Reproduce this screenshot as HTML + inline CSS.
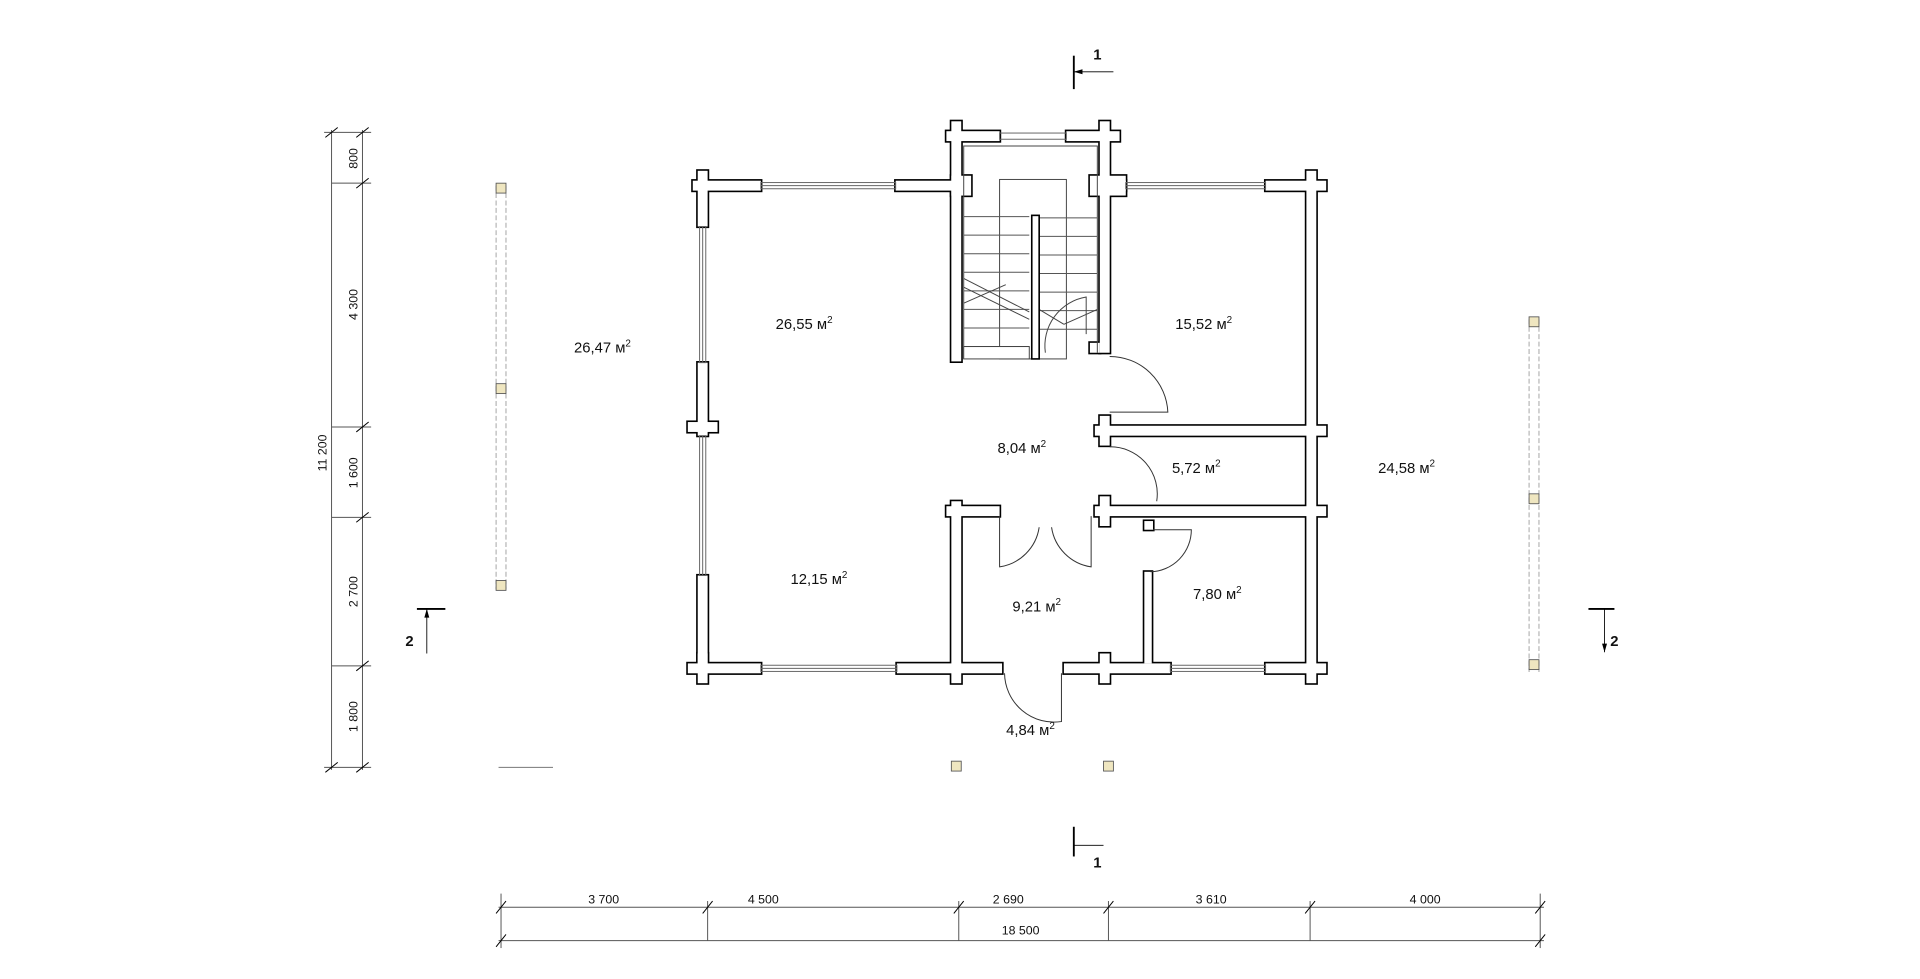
<!DOCTYPE html>
<html><head><meta charset="utf-8"><style>
html,body{margin:0;padding:0;background:#fff;}
svg{display:block;}
text{font-family:"Liberation Sans",sans-serif;fill:#111;}
</style></head><body>
<svg width="1920" height="979" viewBox="0 0 1552 791" preserveAspectRatio="none" xmlns="http://www.w3.org/2000/svg">
<defs>
<g id="walls">
 <!-- left block top wall -->
 <rect x="560" y="146" width="55" height="8"/>
 <rect x="564" y="138" width="8" height="45"/>
 <rect x="724" y="146" width="53" height="8"/>
 <rect x="769" y="142" width="16" height="16"/>
 <!-- left wall -->
 <rect x="564" y="293" width="8" height="59"/>
 <rect x="556" y="341" width="24" height="8"/>
 <rect x="564" y="465" width="8" height="75"/>
 <!-- stair tower -->
 <rect x="769" y="98" width="8" height="194"/>
 <rect x="765" y="106" width="43" height="8"/>
 <rect x="862" y="106" width="43" height="8"/>
 <rect x="889" y="98" width="8" height="187"/>
 <rect x="881" y="142" width="29" height="16"/>
 <rect x="881" y="277" width="8" height="8"/>
 <!-- right block -->
 <rect x="889" y="146" width="21" height="8"/>
 <rect x="1023" y="146" width="49" height="8"/>
 <rect x="1056" y="138" width="8" height="414"/>
 <rect x="885" y="344" width="187" height="8"/>
 <rect x="889" y="336" width="8" height="24"/>
 <rect x="885" y="409" width="187" height="8"/>
 <rect x="889" y="401" width="8" height="24"/>
 <rect x="925" y="462" width="6" height="74"/>
 <rect x="925" y="421" width="7" height="7"/>
 <!-- lower stair wall -->
 <rect x="769" y="405" width="8" height="147"/>
 <rect x="765" y="409" width="43" height="8"/>
 <!-- bottom wall -->
 <rect x="556" y="536" width="59" height="8"/>
 <rect x="564" y="528" width="8" height="24"/>
 <rect x="725" y="536" width="85" height="8"/>
 <rect x="860" y="536" width="86" height="8"/>
 <rect x="889" y="528" width="8" height="24"/>
 <rect x="1023" y="536" width="49" height="8"/>
</g>
</defs>
<g stroke="#000" stroke-width="2.6" fill="#000"><use href="#walls"/></g>
<g fill="#fff" stroke="none"><use href="#walls"/></g>

<!-- windows -->
<g fill="none" stroke="#666" stroke-width="0.8">
 <rect x="615" y="147.5" width="109" height="5"/><line x1="615" y1="150" x2="724" y2="150"/>
 <rect x="808" y="107.5" width="54" height="5"/>
 <rect x="910" y="147.5" width="113" height="5"/><line x1="910" y1="150" x2="1023" y2="150"/>
 <rect x="565.5" y="183" width="5" height="110"/><line x1="568" y1="183" x2="568" y2="293"/>
 <rect x="565.5" y="352" width="5" height="113"/><line x1="568" y1="352" x2="568" y2="465"/>
 <rect x="615" y="537.5" width="110" height="5"/><line x1="615" y1="540" x2="725" y2="540"/>
 <rect x="946" y="537.5" width="77" height="5"/><line x1="946" y1="540" x2="1023" y2="540"/>
</g>

<!-- stairs -->
<g fill="none" stroke="#444" stroke-width="0.8">
 <polyline points="779,290 779,118 887,118 887,285"/>
 <rect x="808" y="145" width="54" height="145"/>
 <g stroke="#555">
  <line x1="779" y1="175" x2="832" y2="175"/><line x1="779" y1="190" x2="832" y2="190"/>
  <line x1="779" y1="205" x2="832" y2="205"/><line x1="779" y1="220" x2="832" y2="220"/>
  <line x1="779" y1="235" x2="832" y2="235"/><line x1="779" y1="250" x2="832" y2="250"/>
  <line x1="779" y1="265" x2="832" y2="265"/><line x1="779" y1="280" x2="832" y2="280"/>
  <line x1="840" y1="176" x2="887" y2="176"/><line x1="840" y1="191" x2="887" y2="191"/>
  <line x1="840" y1="206" x2="887" y2="206"/><line x1="840" y1="221" x2="887" y2="221"/>
  <line x1="840" y1="236" x2="887" y2="236"/><line x1="840" y1="251" x2="887" y2="251"/>
  <line x1="840" y1="266" x2="887" y2="266"/>
 </g>
 <rect x="779" y="280" width="53" height="10" fill="#fff"/>
 <line x1="779" y1="225" x2="832" y2="252"/><line x1="779" y1="232" x2="832" y2="258"/>
 <line x1="779" y1="245" x2="813" y2="230"/>
 <line x1="840" y1="250" x2="860" y2="262"/><line x1="860" y1="262" x2="887" y2="250"/>
 <path d="M845,285 A40,40 0 0 1 878,240 L878,270"/>
</g>
<rect x="834" y="174" width="6" height="116" fill="#fff" stroke="#000" stroke-width="1.3"/>

<!-- doors -->
<g fill="none" stroke="#333" stroke-width="0.8">
 <path d="M897,288 A47,47 0 0 1 944,333 L897,333"/>
 <path d="M897,361 A38,38 0 0 1 935,405"/>
 <path d="M808,417 L808,458 A38,38 0 0 0 840,426"/>
 <path d="M882,417 L882,458 A38,38 0 0 1 850,426"/>
 <path d="M932,428 L963,428 A34,34 0 0 1 930,462"/>
 <path d="M812,544 A40,40 0 0 0 858,583 L858,544"/>
</g>

<!-- room labels -->
<g font-size="12" text-anchor="middle">
 <text x="650" y="266">26,55 м<tspan font-size="8" dy="-5">2</tspan></text>
 <text x="973" y="266">15,52 м<tspan font-size="8" dy="-5">2</tspan></text>
 <text x="826" y="366">8,04 м<tspan font-size="8" dy="-5">2</tspan></text>
 <text x="967" y="382">5,72 м<tspan font-size="8" dy="-5">2</tspan></text>
 <text x="662" y="472">12,15 м<tspan font-size="8" dy="-5">2</tspan></text>
 <text x="838" y="494">9,21 м<tspan font-size="8" dy="-5">2</tspan></text>
 <text x="984" y="484">7,80 м<tspan font-size="8" dy="-5">2</tspan></text>
 <text x="833" y="594">4,84 м<tspan font-size="8" dy="-5">2</tspan></text>
 <text x="487" y="285">26,47 м<tspan font-size="8" dy="-5">2</tspan></text>
 <text x="1137" y="382">24,58 м<tspan font-size="8" dy="-5">2</tspan></text>
</g>

<!-- columns -->
<g fill="none" stroke="#999" stroke-width="0.7" stroke-dasharray="4,2">
 <line x1="401" y1="150" x2="401" y2="476"/><line x1="409" y1="150" x2="409" y2="476"/>
 <line x1="1236" y1="258" x2="1236" y2="543"/><line x1="1244" y1="258" x2="1244" y2="543"/>
</g>
<g fill="#efe6c0" stroke="#555" stroke-width="0.7">
 <rect x="401" y="148" width="8" height="8"/><rect x="401" y="310" width="8" height="8"/><rect x="401" y="469" width="8" height="8"/>
 <rect x="1236" y="256" width="8" height="8"/><rect x="1236" y="399" width="8" height="8"/><rect x="1236" y="533" width="8" height="8"/>
 <rect x="769" y="615" width="8" height="8"/><rect x="892" y="615" width="8" height="8"/>
</g>
<line x1="403" y1="620" x2="447" y2="620" stroke="#777" stroke-width="0.8"/>

<!-- section marks -->
<g stroke="#000" fill="none">
 <line x1="868" y1="45" x2="868" y2="72" stroke-width="1.5"/><line x1="868" y1="58" x2="900" y2="58" stroke-width="0.7"/>
 <line x1="868" y1="668" x2="868" y2="692" stroke-width="1.5"/><line x1="868" y1="683" x2="892" y2="683" stroke-width="0.7"/>
 <line x1="337" y1="492" x2="360" y2="492" stroke-width="1.5"/><line x1="345" y1="492" x2="345" y2="528" stroke-width="0.7"/>
 <line x1="1284" y1="492" x2="1305" y2="492" stroke-width="1.5"/><line x1="1297" y1="492" x2="1297" y2="527" stroke-width="0.7"/>
</g>
<path d="M868,58 l7,-2 v4z M345,492 l-2,7 h4z M1297,527 l-2,-7 h4z" fill="#000"/>
<g font-size="12" font-weight="bold" text-anchor="middle">
 <text x="887" y="48">1</text><text x="887" y="701">1</text>
 <text x="331" y="522">2</text><text x="1305" y="522">2</text>
</g>

<!-- dimensions left -->
<g stroke="#555" stroke-width="0.8">
 <line x1="268" y1="105" x2="268" y2="622"/><line x1="293" y1="105" x2="293" y2="622"/>
 <line x1="262" y1="107" x2="300" y2="107"/><line x1="268" y1="148" x2="300" y2="148"/>
 <line x1="268" y1="345" x2="300" y2="345"/><line x1="268" y1="418" x2="300" y2="418"/>
 <line x1="268" y1="538" x2="300" y2="538"/><line x1="262" y1="620" x2="300" y2="620"/>
 <g stroke="#000"><line x1="263" y1="111" x2="273" y2="103"/><line x1="288" y1="111" x2="298" y2="103"/>
 <line x1="288" y1="152" x2="298" y2="144"/><line x1="288" y1="349" x2="298" y2="341"/>
 <line x1="288" y1="422" x2="298" y2="414"/><line x1="288" y1="542" x2="298" y2="534"/>
 <line x1="263" y1="624" x2="273" y2="616"/><line x1="288" y1="624" x2="298" y2="616"/></g>
</g>
<g font-size="10" text-anchor="middle">
 <text transform="translate(289,128) rotate(-90)">800</text>
 <text transform="translate(289,246) rotate(-90)">4 300</text>
 <text transform="translate(289,382) rotate(-90)">1 600</text>
 <text transform="translate(289,478) rotate(-90)">2 700</text>
 <text transform="translate(289,579) rotate(-90)">1 800</text>
 <text transform="translate(264,366) rotate(-90)">11 200</text>
</g>

<!-- dimensions bottom -->
<g stroke="#555" stroke-width="0.8">
 <line x1="403" y1="733" x2="1248" y2="733"/><line x1="403" y1="760" x2="1248" y2="760"/>
 <line x1="405" y1="722" x2="405" y2="766"/><line x1="572" y1="728" x2="572" y2="760"/>
 <line x1="775" y1="728" x2="775" y2="760"/><line x1="896" y1="728" x2="896" y2="760"/>
 <line x1="1059" y1="728" x2="1059" y2="760"/><line x1="1245" y1="722" x2="1245" y2="766"/>
 <g stroke="#000"><line x1="401" y1="738" x2="409" y2="728"/><line x1="568" y1="738" x2="576" y2="728"/>
 <line x1="771" y1="738" x2="779" y2="728"/><line x1="892" y1="738" x2="900" y2="728"/>
 <line x1="1055" y1="738" x2="1063" y2="728"/><line x1="1241" y1="738" x2="1249" y2="728"/>
 <line x1="401" y1="765" x2="409" y2="755"/><line x1="1241" y1="765" x2="1249" y2="755"/></g>
</g>
<g font-size="10" text-anchor="middle">
 <text x="488" y="730">3 700</text><text x="617" y="730">4 500</text>
 <text x="815" y="730">2 690</text><text x="979" y="730">3 610</text>
 <text x="1152" y="730">4 000</text><text x="825" y="755">18 500</text>
</g>
</svg>
</body></html>
